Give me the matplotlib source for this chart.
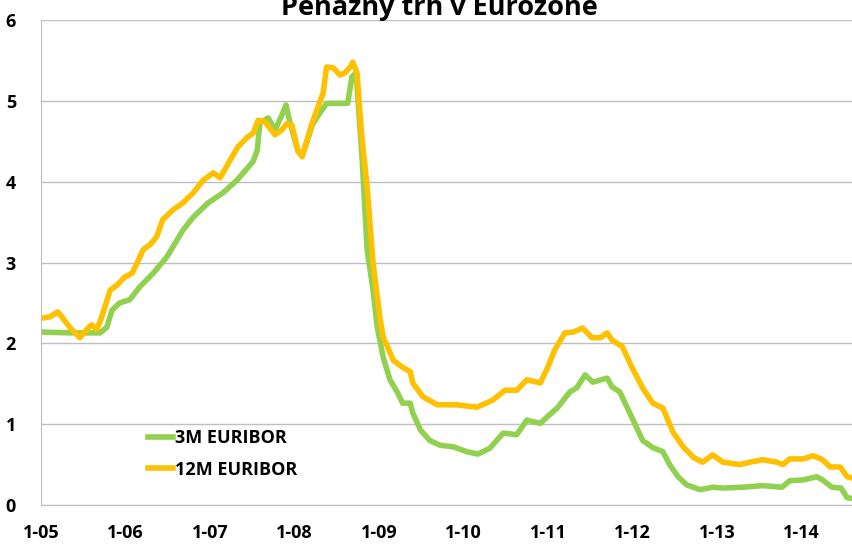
import matplotlib
matplotlib.use("Agg")
import matplotlib.pyplot as plt

plt.rcParams['font.family'] = ['Open Sans', 'DejaVu Sans']

# dates as decimal years, values in %
t_3m = [2005.00, 2005.34, 2005.70, 2005.78, 2005.84, 2005.93, 2006.05, 2006.17,
        2006.33, 2006.49, 2006.68, 2006.80, 2006.98, 2007.15, 2007.32, 2007.51,
        2007.56, 2007.59, 2007.69, 2007.77, 2007.84, 2007.90, 2007.95, 2008.04,
        2008.09, 2008.15, 2008.21, 2008.28, 2008.38, 2008.63, 2008.68, 2008.73,
        2008.80, 2008.86, 2008.93, 2008.98, 2009.05, 2009.13, 2009.22, 2009.28,
        2009.37, 2009.40, 2009.49, 2009.60, 2009.72, 2009.88, 2010.04, 2010.17,
        2010.31, 2010.47, 2010.63, 2010.75, 2010.91, 2010.99, 2011.11, 2011.26,
        2011.34, 2011.44, 2011.53, 2011.70, 2011.76, 2011.85, 2011.99, 2012.12,
        2012.24, 2012.36, 2012.44, 2012.54, 2012.64, 2012.80, 2012.95, 2013.07,
        2013.31, 2013.54, 2013.77, 2013.86, 2014.02, 2014.18, 2014.25, 2014.36,
        2014.47, 2014.54, 2014.61]
v_3m = [2.14, 2.13, 2.13, 2.20, 2.41, 2.50, 2.54, 2.70,
        2.87, 3.07, 3.40, 3.56, 3.74, 3.86, 4.02, 4.25,
        4.39, 4.73, 4.79, 4.64, 4.80, 4.95, 4.72, 4.38,
        4.32, 4.50, 4.70, 4.82, 4.97, 4.97, 5.30, 5.35,
        4.30, 3.16, 2.66, 2.20, 1.83, 1.55, 1.39, 1.26,
        1.26, 1.14, 0.93, 0.80, 0.74, 0.72, 0.66, 0.63,
        0.70, 0.89, 0.87, 1.05, 1.01, 1.09, 1.20, 1.40,
        1.45, 1.61, 1.52, 1.57, 1.46, 1.40, 1.09, 0.80,
        0.71, 0.66, 0.50, 0.35, 0.25, 0.19, 0.22, 0.21,
        0.22, 0.24, 0.22, 0.30, 0.31, 0.35, 0.31, 0.22,
        0.21, 0.09, 0.08]

t_12m = [2005.00, 2005.11, 2005.20, 2005.26, 2005.34, 2005.46, 2005.54, 2005.60,
         2005.66, 2005.72, 2005.82, 2005.90, 2005.99, 2006.08, 2006.14, 2006.21,
         2006.29, 2006.37, 2006.44, 2006.56, 2006.68, 2006.80, 2006.92, 2007.04,
         2007.12, 2007.24, 2007.33, 2007.44, 2007.51, 2007.57, 2007.65, 2007.77,
         2007.85, 2007.91, 2007.97, 2008.04, 2008.09, 2008.15, 2008.21, 2008.28,
         2008.34, 2008.38, 2008.46, 2008.54, 2008.60, 2008.66, 2008.69, 2008.74,
         2008.80, 2008.86, 2008.93, 2009.01, 2009.05, 2009.17, 2009.27, 2009.37,
         2009.40, 2009.52, 2009.69, 2009.92, 2010.16, 2010.35, 2010.49, 2010.63,
         2010.75, 2010.91, 2011.00, 2011.08, 2011.20, 2011.30, 2011.41, 2011.52,
         2011.62, 2011.70, 2011.76, 2011.88, 2011.99, 2012.12, 2012.24, 2012.36,
         2012.48, 2012.60, 2012.72, 2012.83, 2012.95, 2013.07, 2013.27, 2013.39,
         2013.54, 2013.71, 2013.78, 2013.86, 2014.02, 2014.14, 2014.25, 2014.34,
         2014.46, 2014.54, 2014.61]
v_12m = [2.31, 2.33, 2.39, 2.31, 2.20, 2.07, 2.17, 2.23,
         2.17, 2.33, 2.66, 2.72, 2.82, 2.87, 3.00, 3.16,
         3.22, 3.32, 3.53, 3.65, 3.74, 3.86, 4.02, 4.11,
         4.05, 4.27, 4.43, 4.55, 4.60, 4.76, 4.74, 4.58,
         4.64, 4.72, 4.70, 4.39, 4.31, 4.52, 4.73, 4.93,
         5.10, 5.42, 5.41, 5.32, 5.35, 5.42, 5.48, 5.35,
         4.52, 3.94, 3.00, 2.33, 2.08, 1.79, 1.71, 1.65,
         1.51, 1.34, 1.24, 1.24, 1.21, 1.30, 1.42, 1.42,
         1.55, 1.51, 1.71, 1.92, 2.13, 2.14, 2.19, 2.07,
         2.07, 2.13, 2.04, 1.96, 1.71, 1.45, 1.26, 1.20,
         0.90, 0.72, 0.59, 0.53, 0.62, 0.53, 0.50, 0.53,
         0.56, 0.53, 0.50, 0.57, 0.57, 0.61, 0.56, 0.47,
         0.47, 0.35, 0.33]

years = list(range(2005, 2015))
year_labels = ['1-05', '1-06', '1-07', '1-08', '1-09', '1-10', '1-11', '1-12', '1-13', '1-14']

fig = plt.figure(figsize=(8.53, 5.45), dpi=100)
ax = fig.add_axes([0.048, 0.0734, 0.952, 0.8896])

ax.plot(t_3m, v_3m, color='#92D050', lw=4, label='3M EURIBOR', solid_joinstyle='round')
ax.plot(t_12m, v_12m, color='#FFC000', lw=4, label='12M EURIBOR', solid_joinstyle='round')

ax.set_xlim(2005, 2014.61)
ax.set_ylim(0, 6)
ax.set_yticks(range(0, 7))
ax.set_xticks(years)
ax.set_xticklabels(year_labels)
ax.grid(axis='y', color='#BFBFBF', lw=1)
ax.set_axisbelow(True)
for s in ['top', 'right']:
    ax.spines[s].set_visible(False)
ax.spines['left'].set_color('#BFBFBF')
ax.spines['bottom'].set_color('#BFBFBF')
ax.tick_params(length=0, labelsize=13)
ax.tick_params(axis='x', pad=14)
ax.tick_params(axis='y', pad=18)
for lab in ax.get_xticklabels() + ax.get_yticklabels():
    lab.set_fontweight('bold')

ax.legend(loc='upper left', bbox_to_anchor=(0.112, 0.19), frameon=False,
          handlelength=1.4, handletextpad=0.1, labelspacing=0.75,
          prop={'size': 13, 'weight': 'bold'})

fig.text(0.515, 0.972, 'Peňažný trh v Eurozóne', ha='center', va='baseline',
         fontsize=19.5, fontweight='bold')

fig.savefig('out.png', dpi=100)
